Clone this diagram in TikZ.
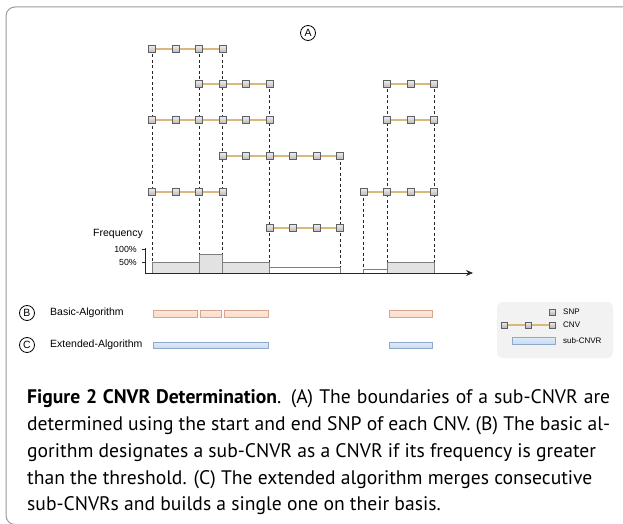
\documentclass[tikz,border=0pt]{standalone}
\usepackage{fontspec}
\setmainfont{Liberation Sans}
\newfontfamily\capfont{PT Sans}
\usetikzlibrary{backgrounds,arrows.meta}
\definecolor{frameg}{HTML}{9A9A9A}
\definecolor{tanc}{HTML}{D9B87A}
\definecolor{orf}{HTML}{FBDCCB}
\definecolor{ord}{HTML}{D8A68E}
\definecolor{blf}{HTML}{C9DCF1}
\definecolor{bld}{HTML}{8FA9C9}
\definecolor{barf}{HTML}{E2E2E2}
\definecolor{bard}{HTML}{7E7E7E}
\definecolor{legf}{HTML}{F2F2F2}
\tikzset{
  snp/.style={rectangle,minimum size=7pt,inner sep=0pt,draw=gray!75!black,line width=0.5pt,top color=gray!15,bottom color=gray!55},
  cnvout/.style={line width=2.8pt,gray!55},
  cnvin/.style={line width=1.5pt,tanc},
  vguide/.style={gray!30!black,line width=0.8pt,dash pattern=on 3pt off 2.5pt},
  barbox/.style={draw=bard,line width=0.7pt,fill=barf},
  barwhite/.style={draw=bard,line width=0.7pt,fill=white},
  orbox/.style={draw=ord,line width=0.6pt,top color=orf!70,bottom color=orf},
  blbox/.style={draw=bld,line width=0.6pt,top color=blf!60,bottom color=blf},
  lbl/.style={font=\fontsize{10.5}{12}\selectfont,inner sep=0pt},
  pct/.style={font=\fontsize{8.8}{10}\selectfont,inner sep=0pt,anchor=east},
  leg/.style={font=\fontsize{8}{9}\selectfont,inner sep=0pt,anchor=west},
  circ/.style={circle,draw=black,line width=0.8pt,minimum size=15pt,inner sep=0pt,font=\fontsize{10.5}{10}\selectfont},
  capline/.style={font=\capfont\fontsize{19.6}{27}\selectfont,inner sep=0pt,anchor=base west},
}
\newcommand\cnvrow[4]{% name, y, i0, i1
  \coordinate (#1-a) at ({152+23.5*#3},#2);
  \coordinate (#1-b) at ({152+23.5*#4},#2);
  \draw[cnvout] (#1-a) -- (#1-b);
  \draw[cnvin] (#1-a) -- (#1-b);
  \foreach \i in {#3,...,#4} {\node[snp] (#1-\i) at ({152+23.5*\i},#2) {};}
}
\newcommand\barat[4]{% style, i0, i1, top
  \draw[#1] ({152+23.5*#2},273) rectangle ({152+23.5*#3},#4);
}
\begin{document}
\begin{tikzpicture}[x=1pt,y=-1pt]
\useasboundingbox (0,0) rectangle (623,524);
% frame
\draw[frameg,line width=1pt,rounded corners=9pt] (624,7) -- (6,7) -- (6,524.5) -- (40,524.5);
% label A
\node[circ] (A) at (308,33) {A};
% CNV rows
\cnvrow{r1}{49}{0}{3}
\cnvrow{r2}{84}{2}{5}
\cnvrow{r3}{120}{0}{5}
\cnvrow{r4}{156}{3}{8}
\cnvrow{r5}{192}{0}{3}
\cnvrow{r6}{228}{5}{8}
\cnvrow{q1}{84}{10}{12}
\cnvrow{q2}{120}{10}{12}
\cnvrow{q3}{192}{9}{12}
\coordinate (base) at (0,273);
\begin{pgfonlayer}{background}
  \foreach \n in {r1-0,r1-2,r1-3,r2-5,r4-8,q3-9,q1-10,q1-12}
    \draw[vguide] (\n.center) -- (\n |- base);
\end{pgfonlayer}
% bars
\barat{barbox}{0}{2}{262}
\barat{barbox}{2}{3}{254}
\barat{barbox}{3}{5}{262}
\barat{barwhite}{5}{8}{267}
\barat{barwhite}{9}{10}{269}
\barat{barbox}{10}{12}{262}
% axes
\coordinate (ax0) at (145,273);
\coordinate (axtop) at (145,248);
\coordinate (axend) at (473,273);
\draw[line width=0.8pt,gray!30!black] (axtop) -- (ax0);
\draw[line width=0.8pt,gray!30!black,-{Stealth[length=7pt,width=6pt]}] (ax0) -- (axend);
\draw[line width=0.8pt,gray!30!black] (142,249) -- (145,249) (142,262) -- (145,262);
\node[lbl,anchor=east] (freq) at (143,234) {Frequency};
\node[pct] (p100) at (137,249) {100\%};
\node[pct] (p50) at (137,262) {50\%};
% B and C
\node[circ] (B) at (27,313) {B};
\node[lbl,anchor=west] (basic) at (50,313) {Basic-Algorithm};
\node[circ] (C) at (27,345) {C};
\node[lbl,anchor=west] (ext) at (50,345) {Extended-Algorithm};
\draw[orbox] (153.5,310.5) rectangle (197.5,317);
\draw[orbox] (200.5,310.5) rectangle (221,317);
\draw[orbox] (224,310.5) rectangle (268.5,317);
\draw[orbox] (389.5,310.5) rectangle (432.5,317);
\draw[blbox] (153.5,342) rectangle (268.5,348.5);
\draw[blbox] (389.5,342) rectangle (432.5,348.5);
% legend
\fill[legf,rounded corners=6pt] (497,302) rectangle (613,358);
\node[snp,minimum size=5.5pt] (lsnp) at (552,312) {};
\node[leg] (tsnp) at (563,312) {SNP};
\coordinate (lc0) at (504,325);
\coordinate (lc1) at (552,325);
\draw[cnvout,line width=2.4pt] (lc0) -- (lc1);
\draw[cnvin,line width=1.3pt] (lc0) -- (lc1);
\foreach \x in {504,528,552} \node[snp,minimum size=5.5pt] at (\x,325) {};
\node[leg] (tcnv) at (563,325) {CNV};
\draw[blbox] (512,337) rectangle (555,344);
\node[leg] (tsub) at (563,340.5) {sub-CNVR};
% caption
\node[capline] (cap1) at (27,403) {\hbox to 583pt{\textbf{Figure 2 CNVR Determination}. (A) The boundaries of a sub-CNVR are}};
\node[capline] (cap2) at (27,430) {\hbox to 583pt{determined using the start and end SNP of each CNV. (B) The basic al-}};
\node[capline] (cap3) at (27,457) {gorithm designates a sub-CNVR as a CNVR if its frequency is greater};
\node[capline] (cap4) at (27,484) {than the threshold. (C) The extended algorithm merges consecutive};
\node[capline] (cap5) at (27,510) {sub-CNVRs and builds a single one on their basis.};
\end{tikzpicture}
\end{document}
